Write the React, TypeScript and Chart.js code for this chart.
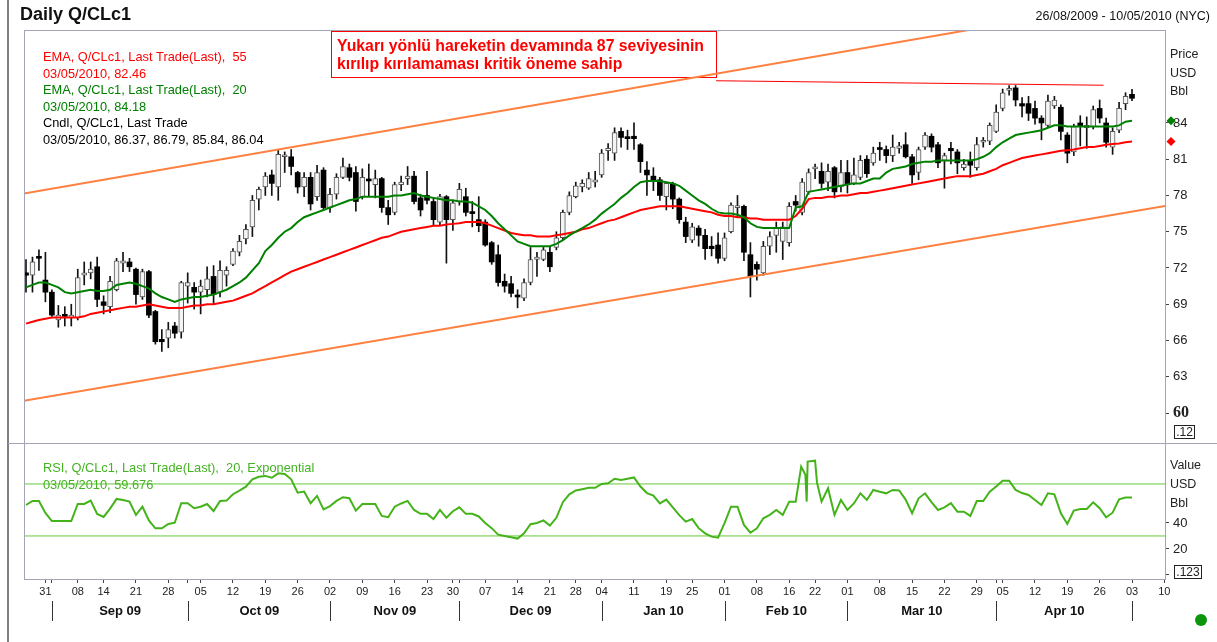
import React, { useEffect, useRef } from 'react';
import { Chart, registerables } from 'chart.js';
Chart.register(...registerables);

const W = 1217;
const H = 642;
const SANS = '"Liberation Sans", Arial, Helvetica, sans-serif';
const NARROW = '"Liberation Sans Narrow", "Arial Narrow", "Liberation Sans", Arial, sans-serif';

// ---- categories: trading days (26 Aug 2009 .. 10 May 2010) ----
const monthLabels = ['Aug 09', 'Sep 09', 'Oct 09', 'Nov 09', 'Dec 09', 'Jan 10', 'Feb 10', 'Mar 10', 'Apr 10', 'May 10'];
const monthYears = [2009, 2009, 2009, 2009, 2009, 2010, 2010, 2010, 2010, 2010];
const monthNums = [7, 8, 9, 10, 11, 0, 1, 2, 3, 4];
const tradingDaysByMonth = [
  [26, 27, 28, 31],
  [1, 2, 3, 4, 8, 9, 10, 11, 14, 15, 16, 17, 18, 21, 22, 23, 24, 25, 28, 29, 30],
  [1, 2, 5, 6, 7, 8, 9, 12, 13, 14, 15, 16, 19, 20, 21, 22, 23, 26, 27, 28, 29, 30],
  [2, 3, 4, 5, 6, 9, 10, 11, 12, 13, 16, 17, 18, 19, 20, 23, 24, 25, 27, 30],
  [1, 2, 3, 4, 7, 8, 9, 10, 11, 14, 15, 16, 17, 18, 21, 22, 23, 24, 28, 29, 30, 31],
  [4, 5, 6, 7, 8, 11, 12, 13, 14, 15, 19, 20, 21, 22, 25, 26, 27, 28, 29],
  [1, 2, 3, 4, 5, 8, 9, 10, 11, 12, 16, 17, 18, 19, 22, 23, 24, 25, 26],
  [1, 2, 3, 4, 5, 8, 9, 10, 11, 12, 15, 16, 17, 18, 19, 22, 23, 24, 25, 26, 29, 30, 31],
  [1, 5, 6, 7, 8, 9, 12, 13, 14, 15, 16, 19, 20, 21, 22, 23, 26, 27, 28, 29, 30],
  [3, 4, 5, 6, 7, 10],
];

// ---- OHLC (Q/CLc1 daily) ----
const opens = [71.6,71.4,72.9,71.0,70.0,67.7,68.1,67.9,67.9,71.4,71.6,72.1,69.2,68.8,70.2,72.4,72.5,71.9,69.6,71.7,
68.4,66.1,66.2,67.2,66.7,70.5,70.4,70.0,70.2,71.3,70.0,71.4,72.3,73.3,74.4,75.4,77.7,78.7,79.7,78.7,
81.2,81.2,79.9,78.7,79.5,77.9,80.1,77.0,78.1,79.5,80.3,79.9,77.9,79.3,78.9,79.4,77.0,76.6,78.9,79.4,
79.6,77.8,78.0,77.5,75.8,77.9,76.0,77.5,77.9,76.6,76.0,75.8,74.1,73.1,70.9,70.7,69.7,69.5,70.8,72.7,
72.7,73.3,73.7,74.5,76.6,77.9,78.7,78.6,79.1,79.7,81.7,81.5,83.3,82.8,82.9,82.2,80.1,79.6,79.3,77.9,
79.0,77.7,75.8,74.3,75.3,74.7,73.8,73.9,72.8,75.0,77.0,77.1,73.1,72.3,71.6,73.8,74.7,74.2,74.1,77.5,
76.6,78.3,80.2,80.0,79.1,80.3,78.7,79.9,79.0,79.5,81.0,80.7,81.9,81.8,81.3,81.9,82.2,81.2,79.9,82.0,
82.9,82.2,80.9,81.9,81.6,80.3,80.9,80.3,82.4,82.5,83.3,85.2,86.7,86.9,85.6,85.6,85.2,84.4,83.8,85.4,
85.3,83.0,81.6,84.0,83.6,83.7,85.2,84.0,82.0,83.4,85.6,86.37];
const highs = [72.7,72.9,73.5,73.3,70.2,68.9,68.8,69.0,71.9,72.5,72.5,72.9,69.7,71.3,72.8,73.3,72.8,72.0,71.9,71.8,
68.5,66.9,67.5,67.5,70.9,71.6,70.8,71.0,72.1,72.2,72.6,72.1,73.6,74.7,75.6,78.0,78.7,79.9,80.1,81.8,
81.6,81.8,80.0,79.9,79.9,80.5,80.3,78.6,79.8,81.1,80.6,80.4,80.2,80.6,80.1,79.5,77.6,79.1,79.6,80.4,
80.0,78.1,80.0,77.8,78.1,78.0,77.6,79.0,78.6,77.5,77.9,76.0,74.2,73.9,71.5,71.3,70.2,71.1,73.7,73.3,
73.7,73.8,75.0,76.8,78.3,79.1,79.3,79.9,80.0,81.8,82.3,83.6,83.6,83.4,84.0,82.3,80.8,80.3,79.5,79.1,
79.1,77.8,76.2,75.7,75.5,75.2,74.6,74.9,74.9,77.4,78.0,77.2,74.1,72.5,74.2,75.0,75.8,75.8,77.4,78.0,
79.4,80.2,80.6,80.7,80.6,80.4,80.9,80.9,81.1,81.3,81.3,82.0,82.4,82.1,83.0,82.4,83.2,81.4,82.0,83.2,
83.1,82.4,81.5,82.4,81.8,81.0,81.6,82.8,82.8,84.0,85.5,86.8,87.1,87.1,86.1,86.2,85.8,84.6,86.3,86.2,
85.5,83.2,83.9,84.6,84.5,85.4,85.9,84.4,83.6,85.7,86.5,86.79];
const lows = [70.0,70.0,71.8,69.2,68.0,67.1,67.2,67.2,67.7,70.6,71.1,68.8,68.2,68.3,70.1,71.7,71.7,69.0,69.4,67.9,
65.7,65.1,65.4,66.2,66.2,69.1,68.6,68.2,69.6,69.0,69.6,70.5,72.2,73.0,74.0,74.6,76.8,78.0,78.0,77.6,
79.9,79.7,78.2,77.9,76.8,77.6,76.8,76.6,77.7,79.4,79.2,76.7,77.7,77.9,77.8,76.6,75.6,76.4,78.4,78.9,
77.3,76.3,77.3,75.5,75.5,72.4,75.1,77.2,76.3,75.4,75.0,73.8,72.3,70.5,70.0,69.6,68.7,69.3,70.6,71.3,
72.6,71.7,73.5,74.3,76.4,77.8,78.3,78.5,78.7,79.5,80.9,80.9,82.0,81.8,81.8,79.9,78.0,78.4,77.6,76.8,
76.9,75.7,74.1,74.1,73.8,72.7,73.0,72.4,72.6,74.9,76.2,72.6,69.6,71.0,71.4,73.1,73.3,72.7,73.8,76.7,
76.4,78.1,79.4,78.6,78.4,77.8,78.3,78.2,78.9,79.3,79.5,80.5,80.9,80.7,80.8,81.5,81.1,79.0,79.3,81.8,
81.6,80.3,78.6,80.6,79.8,80.1,79.5,80.1,82.0,82.2,83.2,85.0,86.3,85.4,84.5,84.2,83.9,82.6,83.6,85.2,
82.6,80.7,81.3,82.1,81.9,83.5,84.0,82.0,81.4,83.2,85.1,85.84];
const closes = [71.4,72.5,72.8,70.0,68.1,68.1,68.0,68.1,71.2,71.6,71.9,69.4,68.9,70.9,72.6,72.6,72.1,69.8,71.7,68.1,
65.9,65.9,66.9,66.6,70.8,70.8,70.0,70.5,71.1,69.8,71.8,71.8,73.4,74.2,75.2,77.6,78.5,79.6,79.0,81.4,
81.3,80.4,78.7,79.5,77.3,79.9,77.0,78.1,79.5,80.4,79.5,77.5,79.5,79.2,79.4,77.0,76.4,78.9,79.1,79.6,
77.5,76.8,77.6,76.0,77.9,76.0,77.4,78.5,76.6,76.5,75.5,73.9,72.5,70.8,70.5,69.9,69.6,70.8,72.7,72.9,
73.5,72.1,74.5,76.6,78.0,78.8,79.0,79.4,79.3,81.5,81.9,83.2,82.8,82.7,82.7,80.8,79.7,79.3,78.0,79.0,
77.7,76.0,74.6,75.4,74.7,73.6,73.6,72.8,74.5,77.2,77.1,73.3,71.3,71.9,73.8,74.6,75.3,75.4,77.1,77.2,
79.1,79.9,80.3,79.0,80.0,78.3,79.9,78.9,79.7,80.9,79.8,81.5,81.8,81.3,82.0,82.1,81.2,79.7,81.8,83.0,
82.0,80.7,81.3,81.7,80.7,80.6,80.5,82.2,82.5,83.8,84.9,86.5,86.8,85.9,85.4,84.8,84.4,84.0,85.8,85.9,
83.3,81.5,83.7,83.7,83.8,85.1,84.4,82.4,83.3,85.2,86.2,86.04];

// ---- EMA 20 / EMA 55 of Last Trade ----
const ema20 = [70.4,70.6,70.8,70.8,70.6,70.4,70.0,69.9,70.0,70.1,70.2,70.1,70.1,70.2,70.6,70.7,70.8,70.7,70.5,70.3,
69.9,69.6,69.4,69.2,69.4,69.5,69.6,69.6,69.7,69.8,70.0,70.2,70.5,70.8,71.2,71.8,72.4,73.4,73.9,74.5,
75.0,75.3,75.8,76.2,76.4,76.6,76.8,77.0,77.2,77.4,77.6,77.7,77.9,77.9,77.9,77.9,77.9,78.0,78.0,78.1,
78.2,78.0,77.9,77.8,77.7,77.6,77.6,77.5,77.5,77.4,77.1,76.8,76.3,75.7,75.2,74.7,74.2,74.0,73.8,73.8,
73.8,73.8,74.0,74.3,74.7,75.0,75.3,75.6,76.0,76.5,76.9,77.3,77.8,78.2,78.7,79.1,79.2,79.2,79.2,79.1,
79.0,78.8,78.4,78.0,77.6,77.3,76.9,76.6,76.5,76.5,76.4,76.2,75.7,75.4,75.3,75.3,75.3,75.3,75.3,77.0,
77.1,78.3,78.4,78.5,78.6,78.7,78.8,78.9,79.0,79.0,79.2,79.4,79.4,79.9,80.2,80.3,80.4,80.6,80.7,80.8,
80.8,80.9,80.9,80.9,80.9,80.9,80.9,81.0,81.2,81.5,82.0,82.4,82.7,83.0,83.1,83.2,83.3,83.4,83.6,83.8,
83.8,83.7,83.7,83.7,83.7,83.7,83.7,83.7,83.7,83.8,84.1,84.18];
const ema55 = [67.4,67.55,67.7,67.8,67.9,67.9,67.9,67.9,67.9,68.0,68.2,68.3,68.4,68.5,68.6,68.7,68.8,68.8,68.9,69.0,
68.9,68.8,68.7,68.7,68.7,68.8,68.9,68.9,69.0,69.0,69.1,69.2,69.3,69.5,69.7,69.9,70.2,70.5,70.8,71.1,
71.4,71.7,71.9,72.1,72.3,72.5,72.7,72.9,73.1,73.3,73.5,73.7,73.9,74.1,74.3,74.5,74.6,74.8,75.0,75.1,
75.2,75.3,75.4,75.5,75.5,75.6,75.65,75.7,75.8,75.8,75.8,75.7,75.5,75.3,75.1,74.9,74.8,74.7,74.7,74.6,
74.6,74.6,74.7,74.8,74.9,75.0,75.2,75.3,75.5,75.7,75.9,76.0,76.2,76.4,76.6,76.8,76.9,77.0,77.1,77.1,
77.1,77.1,77.0,76.9,76.8,76.7,76.6,76.4,76.3,76.3,76.2,76.2,76.1,76.1,76.0,76.0,76.0,76.0,76.0,76.3,
76.9,77.7,77.8,77.8,77.9,77.9,78.0,78.0,78.1,78.2,78.2,78.3,78.4,78.5,78.6,78.7,78.8,78.9,79.0,79.1,
79.2,79.3,79.4,79.5,79.6,79.6,79.6,79.7,79.8,80.0,80.2,80.5,80.7,80.9,81.1,81.2,81.3,81.4,81.5,81.6,
81.7,81.75,81.8,81.9,82.0,82.0,82.1,82.2,82.25,82.3,82.4,82.46];

// ---- RSI 20 exponential ----
const rsiDaily = [53.8,56.9,56.9,47.7,41.5,41.5,41.5,41.5,54.6,54.6,57.2,46.9,44.6,51.0,58.5,57.7,56.4,46.2,52.5,42.0,
35.9,35.9,39.2,40.2,55.2,55.2,51.3,52.5,54.6,49.2,56.9,57.2,62.1,64.8,67.9,73.6,75.5,76.2,74.8,78.2,
77.7,73.6,63.3,64.1,55.2,60.8,50.5,53.0,57.0,59.8,59.0,49.5,54.6,54.6,54.6,45.4,44.4,52.5,55.0,57.0,
50.0,47.0,47.0,43.0,50.0,44.0,49.0,52.0,47.0,47.0,45.0,40.0,36.0,31.0,30.0,29.0,28.0,32.0,39.0,40.0,
42.0,38.0,44.0,56.0,62.0,65.0,66.0,67.0,67.0,70.0,70.5,74.0,73.0,74.0,75.0,68.0,63.0,61.0,55.0,58.0,
52.0,46.0,41.0,43.0,36.0,32.0,29.5,28.7,39.8,52.5,52.5,38.5,32.5,35.9,43.6,46.2,50.0,46.2,56.4,56.4,
null,null,null,56.4,66.7,46.2,57.7,50.0,55.0,62.8,57.7,65.4,64.0,62.8,65.4,65.0,58.0,47.5,59.0,62.8,
56.0,50.0,52.0,55.2,48.7,48.7,45.4,56.9,56.9,64.1,68.0,72.5,72.5,65.4,63.0,61.5,57.7,53.8,62.8,62.0,
47.5,39.2,49.5,50.8,50.8,55.9,51.3,44.4,47.9,58.2,59.6,59.676];
// irregular prints around 18-22 Feb 2010 (position in trading-day units)
const rsiGlitchPos = [119.85, 120.5, 120.7, 120.85, 122.0, 122.3];
const rsiGlitchVal = [83.3, 77.0, 56.4, 87.2, 87.9, 71.0];
const rsiLevels = [70, 30];

// ---- drawn studies (trading-day position, price) ----
const channelUpper = [[-0.31, 78.17], [176.1, 94.5]];
const channelLower = [[-0.31, 61.02], [176.1, 77.12]];
const resistance87 = [[106.7, 87.49], [166.6, 87.12]];

const priceTicks = [60, 63, 66, 69, 72, 75, 78, 81, 84];
const rsiTicks = [0, 20, 40];

// ---- derived category info ----
type TD = { d: number; m: number; y: number; k: number };
const tradingDays: TD[] = [];
tradingDaysByMonth.forEach((days, k) =>
  days.forEach((d) => tradingDays.push({ d, m: monthNums[k], y: monthYears[k], k }))
);
const weekStarts: number[] = [];
const monthStarts: number[] = [];
tradingDays.forEach((t, i) => {
  if (i === 0) return;
  const p = tradingDays[i - 1];
  const wd = new Date(t.y, t.m, t.d).getDay();
  const pwd = new Date(p.y, p.m, p.d).getDay();
  if (wd <= pwd) weekStarts.push(i);
  if (t.k !== p.k) monthStarts.push(i);
});
const xTicks = Array.from(new Set([...weekStarts, ...monthStarts])).sort((a, b) => a - b);
const lastIdx = closes.length - 1;

const xy = (arr: (number | null)[]) => arr.map((v, i) => ({ x: i, y: v }));

const rsiPoints: { x: number; y: number }[] = [];
rsiDaily.forEach((v, i) => {
  if (v !== null) rsiPoints.push({ x: i, y: v });
});
rsiGlitchPos.forEach((p, j) => rsiPoints.push({ x: p, y: rsiGlitchVal[j] }));
rsiPoints.sort((a, b) => a.x - b.x);

const wickData = opens.map((_, i) => ({ x: i, y: [lows[i], highs[i]] }));
const upData: any[] = [];
const downData: any[] = [];
opens.forEach((o, i) => {
  const c = closes[i];
  if (c >= o) upData.push({ x: i, y: [o, c] });
  else downData.push({ x: i, y: [o, c] });
});

const seg = (pts: number[][]) => pts.map((p) => ({ x: p[0], y: p[1] }));

const chromePlugin = {
  id: 'chrome',
  beforeDraw(chart: any) {
    const ctx = chart.ctx;
    ctx.save();
    ctx.fillStyle = '#ffffff';
    ctx.fillRect(0, 0, W, H);
    ctx.fillStyle = '#808080';
    ctx.fillRect(7, 0, 2, H);
    ctx.restore();
  },
  beforeDatasetsDraw(chart: any) {
    const ctx = chart.ctx;
    ctx.save();
    ctx.fillStyle = '#ffffff';
    ctx.fillRect(331, 31, 385, 46);
    ctx.strokeStyle = '#ff0000';
    ctx.lineWidth = 1;
    ctx.strokeRect(331.5, 31.5, 385, 46);
    ctx.fillStyle = '#ff0000';
    ctx.font = `bold 15.8px ${SANS}`;
    ctx.textBaseline = 'middle';
    ctx.textAlign = 'left';
    ctx.fillText('Yukarı yönlü hareketin devamında 87 seviyesinin', 337, 47);
    ctx.fillText('kırılıp kırılamaması kritik öneme sahip', 337, 65);
    ctx.restore();
  },
  afterDatasetsDraw(chart: any) {
    const ctx = chart.ctx;
    const ca = chart.chartArea;
    const yP = chart.scales.y;
    const xs = chart.scales.x;
    const sep = Math.round(yP.bottom);
    ctx.save();
    ctx.strokeStyle = '#a4a4b8';
    ctx.lineWidth = 1;
    ctx.strokeRect(ca.left + 0.5, ca.top + 0.5, ca.right - ca.left, sep - ca.top);
    ctx.strokeRect(ca.left + 0.5, sep + 0.5, ca.right - ca.left, ca.bottom - sep);
    ctx.beginPath();
    ctx.moveTo(8, sep + 0.5);
    ctx.lineTo(W, sep + 0.5);
    ctx.stroke();

    ctx.fillStyle = '#111';
    ctx.textBaseline = 'middle';
    ctx.textAlign = 'left';
    ctx.font = `bold 18px ${SANS}`;
    ctx.fillText('Daily Q/CLc1', 20, 15);
    ctx.font = `12.5px ${SANS}`;
    ctx.textAlign = 'right';
    ctx.fillText('26/08/2009 - 10/05/2010 (NYC)', 1210, 17);

    ctx.textAlign = 'left';
    ctx.font = `12.8px ${SANS}`;
    const lx = 43;
    ctx.fillStyle = '#ff0000';
    ctx.fillText('EMA, Q/CLc1, Last Trade(Last),  55', lx, 57);
    ctx.fillText('03/05/2010, ' + ema55[lastIdx].toFixed(2), lx, 74);
    ctx.fillStyle = '#008000';
    ctx.fillText('EMA, Q/CLc1, Last Trade(Last),  20', lx, 90);
    ctx.fillText('03/05/2010, ' + ema20[lastIdx].toFixed(2), lx, 107);
    ctx.fillStyle = '#000000';
    ctx.fillText('Cndl, Q/CLc1, Last Trade', lx, 123);
    ctx.fillText(
      '03/05/2010, ' + [opens[lastIdx], highs[lastIdx], lows[lastIdx], closes[lastIdx]].map((v) => v.toFixed(2)).join(', '),
      lx,
      140
    );
    ctx.fillStyle = '#44b322';
    ctx.fillText('RSI, Q/CLc1, Last Trade(Last),  20, Exponential', lx, 468);
    ctx.fillText('03/05/2010, ' + (rsiDaily[lastIdx] as number).toFixed(3), lx, 485);

    ctx.fillStyle = '#222';
    ctx.font = `12.5px ${SANS}`;
    ['Price', 'USD', 'Bbl'].forEach((t, i) => ctx.fillText(t, 1170, 55 + i * 18.5));
    ['Value', 'USD', 'Bbl'].forEach((t, i) => ctx.fillText(t, 1170, 466 + i * 19));
    ctx.strokeStyle = '#222';
    ctx.font = `12px ${SANS}`;
    ctx.strokeRect(1174.5, 425.5, 20, 13);
    ctx.textAlign = 'center';
    ctx.fillText('.12', 1184.5, 432.5);
    ctx.strokeRect(1174.5, 565.5, 27, 13);
    ctx.fillText('.123', 1188, 572.5);

    const dia = (y: number, color: string) => {
      ctx.fillStyle = color;
      ctx.beginPath();
      ctx.moveTo(1171, y - 4.5);
      ctx.lineTo(1175.5, y);
      ctx.lineTo(1171, y + 4.5);
      ctx.lineTo(1166.5, y);
      ctx.closePath();
      ctx.fill();
    };
    dia(yP.getPixelForValue(ema20[lastIdx]), '#008000');
    dia(yP.getPixelForValue(ema55[lastIdx]), '#ff0000');

    ctx.strokeStyle = '#333';
    ctx.fillStyle = '#111';
    ctx.font = `bold 13px ${NARROW}`;
    ctx.textAlign = 'center';
    for (let j = 0; j < monthStarts.length; j++) {
      const px = Math.round(xs.getPixelForValue(monthStarts[j])) + 0.5;
      ctx.beginPath();
      ctx.moveTo(px, 601);
      ctx.lineTo(px, 621);
      ctx.stroke();
      if (j + 1 < monthStarts.length) {
        const nx = xs.getPixelForValue(monthStarts[j + 1]);
        const k = tradingDays[monthStarts[j]].k;
        ctx.fillText(monthLabels[k], (px + nx) / 2, 611);
      }
    }

    ctx.fillStyle = '#0b960b';
    ctx.beginPath();
    ctx.arc(1201, 620, 6, 0, Math.PI * 2);
    ctx.fill();
    ctx.restore();
  },
};

const axisCommon = {
  type: 'linear',
  position: 'right',
  stack: 'panes',
  grid: { drawOnChartArea: false, drawTicks: true, tickLength: 4, color: '#444' },
  border: { display: false },
  afterFit(s: any) {
    s.width = 52;
  },
};

export default function App() {
  const ref = useRef<HTMLCanvasElement>(null);
  useEffect(() => {
    const datasets: any[] = [
      { type: 'bar', data: wickData, backgroundColor: '#111', borderWidth: 0, barThickness: 1, grouped: false, yAxisID: 'y', order: 10 },
      {
        type: 'bar',
        data: upData,
        backgroundColor: '#f4f4f4',
        borderColor: '#555',
        borderWidth: 1,
        borderSkipped: false,
        barThickness: 5,
        minBarLength: 2,
        grouped: false,
        yAxisID: 'y',
        order: 9,
      },
      {
        type: 'bar',
        data: downData,
        backgroundColor: '#000',
        borderColor: '#000',
        borderWidth: 0,
        borderSkipped: false,
        barThickness: 5,
        minBarLength: 2,
        grouped: false,
        yAxisID: 'y',
        order: 8,
      },
      { type: 'line', data: xy(ema55), borderColor: '#ff0000', borderWidth: 2, pointRadius: 0, yAxisID: 'y', order: 5 },
      { type: 'line', data: xy(ema20), borderColor: '#008000', borderWidth: 2, pointRadius: 0, yAxisID: 'y', order: 4 },
      { type: 'line', data: seg(channelUpper), borderColor: '#ff8040', borderWidth: 2, pointRadius: 0, yAxisID: 'y', order: 3 },
      { type: 'line', data: seg(channelLower), borderColor: '#ff8040', borderWidth: 2, pointRadius: 0, yAxisID: 'y', order: 3 },
      { type: 'line', data: seg(resistance87), borderColor: '#ff0000', borderWidth: 1, pointRadius: 0, yAxisID: 'y', order: 3 },
      ...rsiLevels.map((lv) => ({
        type: 'line',
        data: [{ x: -0.31, y: lv }, { x: 176.1, y: lv }],
        borderColor: '#66c83a',
        borderWidth: 1,
        pointRadius: 0,
        yAxisID: 'y2',
        order: 6,
      })),
      { type: 'line', data: rsiPoints, borderColor: '#44b31a', borderWidth: 2, pointRadius: 0, yAxisID: 'y2', order: 2 },
    ];

    const chart = new Chart(ref.current as HTMLCanvasElement, {
      type: 'bar',
      data: { datasets },
      options: {
        animation: false,
        responsive: false,
        events: [],
        layout: { padding: { left: 24, top: 30, right: 0, bottom: 0 } },
        plugins: { legend: { display: false }, tooltip: { enabled: false }, title: { display: false } },
        scales: {
          x: {
            type: 'linear',
            min: -0.31,
            max: 176.1,
            offset: false,
            afterBuildTicks(s: any) {
              s.ticks = xTicks.map((v) => ({ value: v }));
            },
            afterFit(s: any) {
              s.height = 63;
            },
            ticks: {
              autoSkip: false,
              maxRotation: 0,
              minRotation: 0,
              padding: 2,
              color: '#222',
              font: { family: NARROW, size: 11 },
              callback: (v: any) => (weekStarts.includes(v) ? String(tradingDays[v].d).padStart(2, '0') : ''),
            },
            grid: { drawOnChartArea: false, drawTicks: true, tickLength: 4, color: '#444', offset: false },
            border: { display: false },
          },
          y: {
            ...axisCommon,
            stackWeight: 3.037,
            min: 57.52,
            max: 91.69,
            afterBuildTicks(s: any) {
              s.ticks = priceTicks.map((v) => ({ value: v }));
            },
            ticks: {
              padding: 4,
              color: '#222',
              font: (c: any) =>
                c.tick && c.tick.value === 60
                  ? { family: '"Liberation Serif", "Times New Roman", serif', size: 16, weight: 'bold' }
                  : { family: SANS, size: 13 },
              callback: (v: any) => String(v),
            },
          },
          y2: {
            ...axisCommon,
            stackWeight: 1,
            min: -3.1,
            max: 101.5,
            afterBuildTicks(s: any) {
              s.ticks = rsiTicks.map((v) => ({ value: v }));
            },
            ticks: {
              padding: 4,
              color: '#222',
              font: { family: SANS, size: 13 },
              callback: (v: any) => (v === 0 ? '' : String(v)),
            },
          },
        },
      } as any,
      plugins: [chromePlugin],
    } as any);
    return () => chart.destroy();
  }, []);

  return (
    <div style={{ position: 'fixed', left: 0, top: 0, width: W, height: H, background: '#fff' }}>
      <canvas ref={ref} width={W} height={H} style={{ display: 'block', width: W, height: H }} />
    </div>
  );
}
